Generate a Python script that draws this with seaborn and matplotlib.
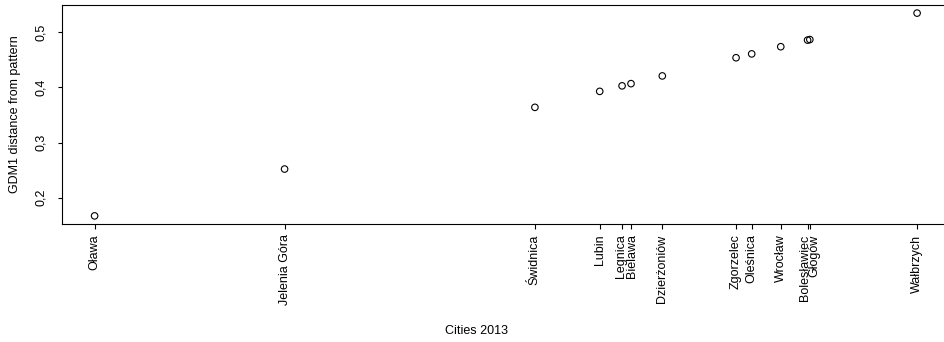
import matplotlib
matplotlib.use("Agg")
import matplotlib.pyplot as plt
import matplotlib.transforms as mtransforms
import seaborn as sns
import pandas as pd
from matplotlib.ticker import FuncFormatter

# GDM1 distance from the pattern object for each city (2013)
cities = ["Oława", "Jelenia Góra", "Świdnica", "Lubin", "Legnica", "Bielawa",
          "Dzierżoniów", "Zgorzelec", "Oleśnica", "Wrocław", "Bolesławiec",
          "Głogów", "Wałbrzych"]
gdm1 = [0.167, 0.252, 0.364, 0.393, 0.403, 0.407, 0.421, 0.454, 0.461,
        0.474, 0.486, 0.487, 0.535]
y_ticks = [0.2, 0.3, 0.4, 0.5]

df = pd.DataFrame({"city": cities, "distance": gdm1})

sns.set_style("white")
plt.rcParams["font.family"] = ["Liberation Sans", "DejaVu Sans"]
plt.rcParams["font.size"] = 9
plt.rcParams["text.color"] = "black"
plt.rcParams["axes.labelcolor"] = "black"
plt.rcParams["xtick.color"] = "black"
plt.rcParams["ytick.color"] = "black"

fig = plt.figure(figsize=(9.45, 3.42), dpi=100)
W, H = 945, 342
left, right, top, bottom = 61.7, 950, 5, 224
ax = fig.add_axes([left / W, 1 - bottom / H, (right - left) / W, (bottom - top) / H])

sns.scatterplot(data=df, x="distance", y="distance", ax=ax, marker="o",
                s=22, facecolor="none", edgecolor="black", linewidth=0.8)

# 4% padding on both axes
lo, hi = min(gdm1), max(gdm1)
pad = 0.04 * (hi - lo)
ax.set_xlim(lo - pad, hi + pad)
ax.set_ylim(lo - pad, hi + pad)

ax.set_xticks(gdm1)
ax.set_xticklabels(cities, rotation=90, va="top", ha="center")
ax.set_yticks(y_ticks)
ax.yaxis.set_major_formatter(FuncFormatter(lambda v, p: f"{v:.1f}".replace(".", ",")))

ax.tick_params(axis="x", direction="out", length=3.5, width=0.8, labelsize=9,
               pad=4, bottom=True, top=False)
ax.tick_params(axis="y", direction="out", length=3, width=0.8, labelsize=9,
               pad=7.5, left=True, right=False)
for lab in ax.get_yticklabels():
    lab.set_rotation(90)
    lab.set_va("center")

# nudge labels of near-coincident ticks apart
nudge = {"Legnica": -1.0, "Bielawa": 1.0, "Bolesławiec": -3.0, "Głogów": 5.0}
for lab in ax.get_xticklabels():
    dx = nudge.get(lab.get_text())
    if dx:
        lab.set_transform(lab.get_transform() +
                          mtransforms.ScaledTranslation(dx / 100, 0, fig.dpi_scale_trans))

for name, s in ax.spines.items():
    s.set_color("black")
    s.set_linewidth(0.8)
    s.set_visible(name != "right")

ax.set_xlabel("Cities 2013", fontsize=9)
ax.xaxis.set_label_coords((477 - left) / (right - left), -(331 - bottom) / (bottom - top))
ax.xaxis.label.set_va("center")
ax.set_ylabel("GDM1 distance from pattern", fontsize=9)
ax.yaxis.set_label_coords(-(left - 15) / (right - left), 0.5)
ax.yaxis.label.set_va("center")

fig.savefig("out.png", dpi=100)
